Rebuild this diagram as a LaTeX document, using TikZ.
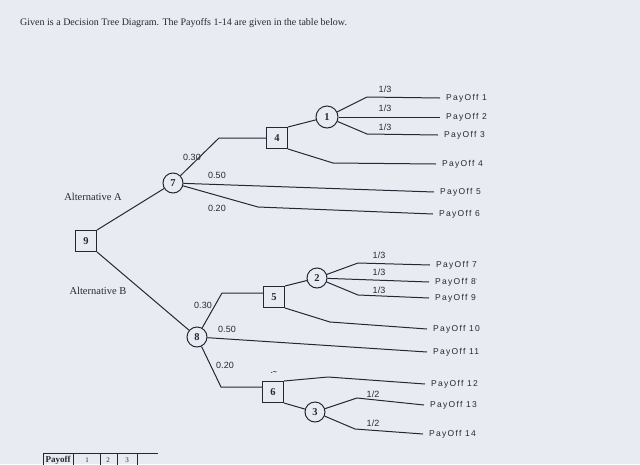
\documentclass[tikz,border=0pt]{standalone}
\usepackage{fontspec}
\setmainfont{Liberation Serif}
\newfontfamily\pofont[LetterSpace=15]{Liberation Sans}
\newfontfamily\prfont{Liberation Sans}
\definecolor{bg}{RGB}{232,236,242}
\definecolor{ink}{RGB}{35,40,52}
\begin{document}
\begin{tikzpicture}[x=1pt,y=-1pt,
  ln/.style={draw=ink,line width=1pt},
  chance/.style={circle,draw=ink,line width=1pt,minimum size=20pt,inner sep=0pt,font=\fontsize{10.5}{10}\selectfont\bfseries,text=ink},
  decis/.style={rectangle,draw=ink,line width=1pt,minimum size=21pt,inner sep=0pt,font=\fontsize{10.5}{10}\selectfont\bfseries,text=ink},
  po/.style={anchor=west,inner xsep=6pt,inner ysep=0pt,font=\pofont\fontsize{8.5}{9}\selectfont,text=ink},
  pr/.style={inner sep=0pt,font=\prfont\fontsize{9}{9}\selectfont,text=ink},
  alt/.style={inner sep=0pt,font=\fontsize{10.5}{10}\selectfont,text=ink}]
\useasboundingbox (0,0) rectangle (640,464);
\fill[bg] (0,0) rectangle (640,464);
% title
\node[anchor=base west,inner sep=0pt,font=\fontsize{10}{10}\selectfont,text=ink] (title) at (20,25) {Given is a Decision Tree Diagram. The Payoffs 1-14 are given in the table below.};
% nodes
\node[decis] (n9) at (86,241) {9};
\node[chance] (n7) at (173,183) {7};
\node[decis] (n4) at (277,138) {4};
\node[chance,minimum size=22pt] (n1) at (327,117) {1};
\node[chance] (n8) at (197,337) {8};
\node[decis] (n5) at (274,297) {5};
\node[chance] (n2) at (317,278) {2};
\node[decis] (n6) at (273,392) {6};
\node[chance] (n3) at (315,412) {3};
% payoffs
\node[po] (p1) at (440,98) {PayOff 1};
\node[po] (p2) at (440,117) {PayOff 2};
\node[po] (p3) at (438,135) {PayOff 3};
\node[po] (p4) at (436,164) {PayOff 4};
\node[po] (p5) at (434,192) {PayOff 5};
\node[po] (p6) at (433,214) {PayOff 6};
\node[po] (p7) at (430,265) {PayOff 7};
\node[po] (p8) at (429,282) {PayOff 8\raisebox{1.5pt}{\tiny'}};
\node[po] (p9) at (429,298) {PayOff 9};
\node[po] (p10) at (427,329) {PayOff 10};
\node[po] (p11) at (427,352) {PayOff 11};
\node[po] (p12) at (425,384) {PayOff 12};
\node[po] (p13) at (424,405) {PayOff 13};
\node[po] (p14) at (423,434) {PayOff 14};
% bend coordinates
\coordinate (a74) at (219,138);
\coordinate (a1t) at (367,97);
\coordinate (a1b) at (367,134);
\coordinate (a4b) at (333,163);
\coordinate (a7b) at (258,207);
\coordinate (a85) at (222,293);
\coordinate (a2t) at (358,263);
\coordinate (a2b) at (358,295);
\coordinate (a5b) at (330,322);
\coordinate (a86) at (221,387);
\coordinate (a6t) at (328,377);
\coordinate (a3t) at (357,398);
\coordinate (a3b) at (355,429);
% connectors
\draw[ln] (n9.north east) -- (n7);
\draw[ln] (n9.south east) -- (n8);
\draw[ln] (n7) -- (a74) -- (a74 -| n4.west);
\draw[ln] (n7) -- (p5.west);
\draw[ln] (n7) -- (a7b) -- (p6.west);
\draw[ln] (n4.north east) -- (n1);
\draw[ln] (n4.south east) -- (a4b) -- (p4.west);
\draw[ln] (n1) -- (a1t) -- (p1.west);
\draw[ln] (n1) -- (p2.west);
\draw[ln] (n1) -- (a1b) -- (p3.west);
\draw[ln] (n8) -- (a85) -- (a85 -| n5.west);
\draw[ln] (n8) -- (p11.west);
\draw[ln] (n8) -- (a86) -- (a86 -| n6.west);
\draw[ln] (n5.north east) -- (n2);
\draw[ln] (n5.south east) -- (a5b) -- (p10.west);
\draw[ln] (n2) -- (a2t) -- (p7.west);
\draw[ln] (n2) -- (p8.west);
\draw[ln] (n2) -- (a2b) -- (p9.west);
\draw[ln] (n6.north east) -- (a6t) -- (p12.west);
\draw[ln] (n6.south east) -- (n3);
\draw[ln] (n3) -- (a3t) -- (p13.west);
\draw[ln] (n3) -- (a3b) -- (p14.west);
% probability labels
\node[pr] (l1a) at (385,89) {1/3};
\node[pr] (l1b) at (385,108) {1/3};
\node[pr] (l1c) at (385,127) {1/3};
\node[pr] (l7a) at (192,157) {0.30};
\node[pr] (l7b) at (217,175) {0.50};
\node[pr] (l7c) at (217,208) {0.20};
\node[pr] (l2a) at (379,255) {1/3};
\node[pr] (l2b) at (379,272) {1/3};
\node[pr] (l2c) at (379,290) {1/3};
\node[pr] (l8a) at (203,305) {0.30};
\node[pr] (l8b) at (227,329) {0.50};
\node[pr] (l8c) at (225,365) {0.20};
\node[pr] (l3a) at (373,394) {1/2};
\node[pr] (l3b) at (373,423) {1/2};
\node[inner sep=0pt,font=\prfont\fontsize{7}{7}\selectfont\bfseries,text=ink] (mk) at (274,373) {.\raisebox{-1pt}{\textasciitilde}};
% alternatives
\node[alt] (altA) at (93,197) {Alternative A};
\node[alt] (altB) at (98,291) {Alternative B};
% table (cut off)
\draw[ln,line width=0.7pt] (43,470) -- (43,453) -- (158,453);
\foreach \xx in {73,100,117,137} \draw[ln,line width=0.7pt] (\xx,453) -- (\xx,470);
\node[anchor=base,inner sep=0pt,font=\fontsize{9}{9}\selectfont\bfseries,text=ink] (tp) at (58,462) {Payoff};
\node[anchor=base,inner sep=0pt,font=\fontsize{7}{7}\selectfont,text=ink] (t1) at (87,462) {1};
\node[anchor=base,inner sep=0pt,font=\fontsize{7}{7}\selectfont,text=ink] (t2) at (108,462) {2};
\node[anchor=base,inner sep=0pt,font=\fontsize{7}{7}\selectfont,text=ink] (t3) at (127,462) {3};
\end{tikzpicture}
\end{document}
